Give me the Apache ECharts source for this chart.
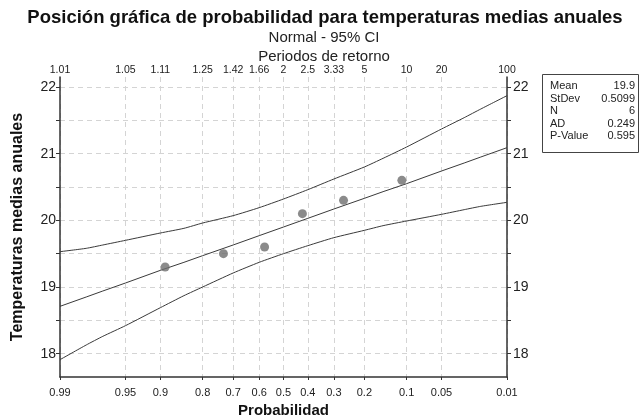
<!DOCTYPE html>
<html><head><meta charset="utf-8">
<script src="https://cdn.jsdelivr.net/npm/echarts@6/dist/echarts.min.js"></script>
<style>html,body{margin:0;padding:0;background:#fff}#c{width:642px;height:417px}</style>
</head><body><div id="c"></div>
<script>
// ---- data ----
const probTicks = [0.99, 0.95, 0.9, 0.8, 0.7, 0.6, 0.5, 0.4, 0.3, 0.2, 0.1, 0.05, 0.01];
const probLabels = ['0.99', '0.95', '0.9', '0.8', '0.7', '0.6', '0.5', '0.4', '0.3', '0.2', '0.1', '0.05', '0.01'];
const periodLabels = ['1.01', '1.05', '1.11', '1.25', '1.42', '1.66', '2', '2.5', '3.33', '5', '10', '20', '100'];
const yTicks = [18, 18.5, 19, 19.5, 20, 20.5, 21, 21.5, 22];
const yLabels = [18, 19, 20, 21, 22];
const pointProbs = [0.891, 0.734, 0.578, 0.422, 0.266, 0.109];
const pointTemps = [19.3, 19.5, 19.6, 20.1, 20.3, 20.6];
const curveProbs = [0.99, 0.98, 0.97, 0.95, 0.9, 0.85, 0.8, 0.7, 0.6, 0.5, 0.4, 0.3, 0.2, 0.15, 0.1, 0.05, 0.03, 0.02, 0.01];
const fitTemps   = [18.71, 18.85, 18.94, 19.06, 19.25, 19.37, 19.47, 19.63, 19.77, 19.90, 20.03, 20.17, 20.33, 20.43, 20.55, 20.74, 20.86, 20.95, 21.09];
const upperTemps = [19.53, 19.58, 19.63, 19.70, 19.81, 19.88, 19.96, 20.07, 20.19, 20.32, 20.46, 20.62, 20.80, 20.93, 21.10, 21.37, 21.54, 21.67, 21.87];
const lowerTemps = [17.91, 18.13, 18.26, 18.42, 18.69, 18.87, 19.00, 19.21, 19.37, 19.50, 19.62, 19.74, 19.85, 19.92, 19.99, 20.09, 20.16, 20.21, 20.27];
const statLabels = ['Mean', 'StDev', 'N', 'AD', 'P-Value'];
const statValues = ['19.9', '0.5099', '6', '0.249', '0.595'];
const yMin = 17.65, yMax = 22.15;

// ---- normal probability scale (exceedance prob -> standard normal quantile) ----
function probit(p) {
  const a = [-3.969683028665376e+01, 2.209460984245205e+02, -2.759285104469687e+02, 1.383577518672690e+02, -3.066479806614716e+01, 2.506628277459239e+00];
  const b = [-5.447609879822406e+01, 1.615858368580409e+02, -1.556989798598866e+02, 6.680131188771972e+01, -1.328068155288572e+01];
  const c = [-7.784894002430293e-03, -3.223964580411365e-01, -2.400758277161838e+00, -2.549732539343734e+00, 4.374664141464968e+00, 2.938163982698783e+00];
  const d = [7.784695709041462e-03, 3.224671290700398e-01, 2.445134137142996e+00, 3.754408661907416e+00];
  const pl = 0.02425;
  let q, r;
  if (p < pl) { q = Math.sqrt(-2 * Math.log(p)); return (((((c[0]*q+c[1])*q+c[2])*q+c[3])*q+c[4])*q+c[5]) / ((((d[0]*q+d[1])*q+d[2])*q+d[3])*q+1); }
  if (p > 1 - pl) { q = Math.sqrt(-2 * Math.log(1 - p)); return -(((((c[0]*q+c[1])*q+c[2])*q+c[3])*q+c[4])*q+c[5]) / ((((d[0]*q+d[1])*q+d[2])*q+d[3])*q+1); }
  q = p - 0.5; r = q * q;
  return (((((a[0]*r+a[1])*r+a[2])*r+a[3])*r+a[4])*r+a[5])*q / (((((b[0]*r+b[1])*r+b[2])*r+b[3])*r+b[4])*r+1);
}
const zOf = p => probit(1 - p);
const zTicks = probTicks.map(zOf);
function nearestIdx(v) { let bi = 0, bd = Infinity; zTicks.forEach((z, i) => { const dd = Math.abs(z - v); if (dd < bd) { bd = dd; bi = i; } }); return bi; }
const pair = (ps, vs) => ps.map((p, i) => [zOf(p), vs[i]]);

const FONT = 'Liberation Sans';
const axisCol = '#333';
const gridLine = { show: true, lineStyle: { color: '#d4d4d4', type: [5, 4], width: 1 } };

const chart = echarts.init(document.getElementById('c'), null, { renderer: 'canvas' });
const lineStyle = { color: '#3a3a3a', width: 1 };

chart.setOption({
  animation: false,
  backgroundColor: '#fff',
  textStyle: { fontFamily: FONT },
  grid: { left: 60, right: 135, top: 77, bottom: 40, containLabel: false, outerBoundsMode: 'none' },
  xAxis: [{
    type: 'value', position: 'bottom', min: zOf(0.99), max: zOf(0.01),
    axisLine: { show: true, onZero: false, lineStyle: { color: axisCol, width: 1.5 } },
    axisTick: { show: true, length: 3, customValues: zTicks, lineStyle: { color: axisCol } },
    axisLabel: { customValues: zTicks, formatter: v => probLabels[nearestIdx(v)], fontSize: 11, color: '#222', margin: 10, fontFamily: FONT },
    splitLine: gridLine,
    name: 'Probabilidad', nameLocation: 'middle', nameGap: 23,
    nameTextStyle: { fontSize: 15, fontWeight: 'bold', color: '#111', fontFamily: FONT }
  }, {
    type: 'value', position: 'top', min: zOf(0.99), max: zOf(0.01),
    axisLine: { show: false },
    axisTick: { show: false, customValues: zTicks },
    axisLabel: { customValues: zTicks, formatter: v => periodLabels[nearestIdx(v)], fontSize: 10.5, color: '#222', margin: 1, fontFamily: FONT },
    splitLine: { show: false }
  }],
  yAxis: [{
    type: 'value', position: 'left', min: yMin, max: yMax,
    axisLine: { show: true, onZero: false, lineStyle: { color: axisCol, width: 1.5 } },
    axisTick: { show: true, length: 4, customValues: yTicks, lineStyle: { color: axisCol } },
    axisLabel: { customValues: yLabels, fontSize: 14, color: '#222', margin: 4, fontFamily: FONT },
    splitLine: gridLine,
    name: 'Temperaturas medias anuales', nameLocation: 'middle', nameGap: 34,
    nameTextStyle: { fontSize: 16, fontWeight: 'bold', color: '#111', fontFamily: FONT }
  }, {
    type: 'value', position: 'right', min: yMin, max: yMax,
    axisLine: { show: true, onZero: false, lineStyle: { color: axisCol, width: 1.5 } },
    axisTick: { show: true, length: 4, customValues: yTicks, lineStyle: { color: axisCol } },
    axisLabel: { customValues: yLabels, fontSize: 14, color: '#222', margin: 6, fontFamily: FONT },
    splitLine: { show: false }
  }],
  graphic: [
    { type: 'text', style: { x: 325, y: 18, text: 'Posición gráfica de probabilidad para temperaturas medias anuales', align: 'center', verticalAlign: 'middle', fontSize: 18.5, fontWeight: 'bold', fontFamily: FONT, fill: '#111' } },
    { type: 'text', style: { x: 324, y: 38, text: 'Normal - 95% CI', align: 'center', verticalAlign: 'middle', fontSize: 15, fontFamily: FONT, fill: '#222' } },
    { type: 'text', style: { x: 324, y: 57, text: 'Periodos de retorno', align: 'center', verticalAlign: 'middle', fontSize: 15, fontFamily: FONT, fill: '#222' } },
    { type: 'rect', shape: { x: 542.5, y: 74.5, width: 96, height: 78 }, style: { fill: '#fff', stroke: '#444', lineWidth: 1 } },
    ...statLabels.map((t, i) => ({ type: 'text', style: { x: 550, y: 86 + i * 12.6, text: t, align: 'left', verticalAlign: 'middle', fontSize: 11, fontFamily: FONT, fill: '#222' } })),
    ...statValues.map((t, i) => ({ type: 'text', style: { x: 635, y: 86 + i * 12.6, text: t, align: 'right', verticalAlign: 'middle', fontSize: 11, fontFamily: FONT, fill: '#222' } }))
  ],
  series: [
    { type: 'line', data: pair(curveProbs, upperTemps), smooth: 0.2, showSymbol: false, lineStyle, silent: true },
    { type: 'line', data: pair(curveProbs, fitTemps), smooth: false, showSymbol: false, lineStyle, silent: true },
    { type: 'line', data: pair(curveProbs, lowerTemps), smooth: 0.2, showSymbol: false, lineStyle, silent: true },
    { type: 'scatter', data: pair(pointProbs, pointTemps), symbol: 'circle', symbolSize: 9, itemStyle: { color: '#6e6e6e' }, z: 5 }
  ]
});
</script></body></html>
